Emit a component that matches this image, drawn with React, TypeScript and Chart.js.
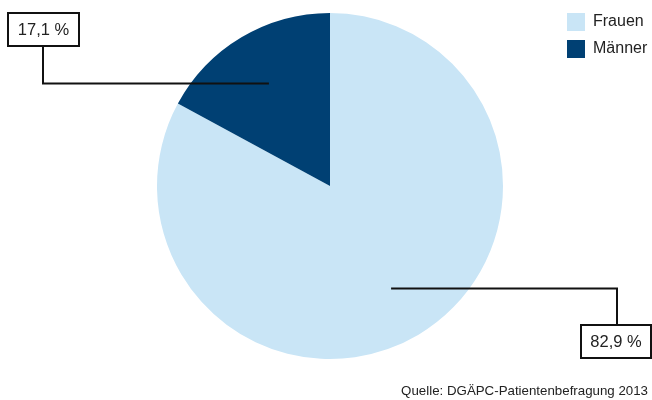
import React, { useEffect, useRef } from "react";
import { Chart, registerables } from "chart.js";

Chart.register(...registerables);

const categories = ["Frauen", "Männer"];
const values = [82.9, 17.1];
const valueLabels = ["82,9 %", "17,1 %"];
const colors = ["#C9E5F6", "#004073"];
const source = "Quelle: DGÄPC-Patientenbefragung 2013";

const FONT = "Arial, 'Liberation Sans', sans-serif";

const overlayPlugin = {
  id: "overlay",
  afterDraw(chart: any) {
    const ctx = chart.ctx;
    const meta = chart.getDatasetMeta(0);
    ctx.save();
    // legend
    ctx.font = `16px ${FONT}`;
    ctx.textBaseline = "middle";
    ctx.textAlign = "left";
    categories.forEach((c, i) => {
      const y = 13 + i * 27;
      ctx.fillStyle = colors[i];
      ctx.fillRect(567, y, 18, 18);
      ctx.fillStyle = "#222";
      ctx.fillText(c, 593, y + 9);
    });
    // callouts
    const drawBox = (label: string, x: number, y: number, w: number, h: number) => {
      ctx.fillStyle = "#fff";
      ctx.fillRect(x, y, w, h);
      ctx.strokeStyle = "#111";
      ctx.lineWidth = 2;
      ctx.strokeRect(x, y, w, h);
      ctx.fillStyle = "#222";
      ctx.font = `16.5px ${FONT}`;
      ctx.textAlign = "center";
      ctx.textBaseline = "middle";
      ctx.fillText(label, x + w / 2, y + h / 2 + 1);
    };
    const anchor = (i: number) => {
      const a = meta.data[i];
      const mid = (a.startAngle + a.endAngle) / 2;
      const r = a.outerRadius * 0.69;
      return { x: a.x + Math.cos(mid) * r, y: a.y + Math.sin(mid) * r };
    };
    ctx.strokeStyle = "#111";
    ctx.lineWidth = 2;
    // Männer
    const pm = anchor(1);
    ctx.beginPath();
    ctx.moveTo(pm.x, pm.y);
    ctx.lineTo(43, pm.y);
    ctx.lineTo(43, 46);
    ctx.stroke();
    drawBox(valueLabels[1], 8, 13, 71, 33);
    // Frauen
    const pf = anchor(0);
    ctx.strokeStyle = "#111";
    ctx.beginPath();
    ctx.moveTo(pf.x, pf.y);
    ctx.lineTo(617, pf.y);
    ctx.lineTo(617, 325);
    ctx.stroke();
    drawBox(valueLabels[0], 581, 325, 70, 33);
    // source
    ctx.font = `13.3px ${FONT}`;
    ctx.fillStyle = "#222";
    ctx.textAlign = "right";
    ctx.textBaseline = "middle";
    ctx.fillText(source, 648, 391);
    ctx.restore();
  },
};

export default function App() {
  const ref = useRef<HTMLCanvasElement>(null);
  useEffect(() => {
    if (!ref.current) return;
    const chart = new Chart(ref.current, {
      type: "pie",
      data: {
        labels: categories,
        datasets: [
          {
            data: values,
            backgroundColor: colors,
            borderWidth: 0,
          },
        ],
      },
      options: {
        responsive: false,
        animation: false,
        layout: { padding: { top: 13, bottom: 41, left: 157, right: 149 } },
        plugins: { legend: { display: false }, tooltip: { enabled: false } },
      },
      plugins: [overlayPlugin],
    });
    return () => chart.destroy();
  }, []);
  return (
    <div style={{ position: "fixed", left: 0, top: 0, width: 652, height: 400, background: "#fff" }}>
      <canvas ref={ref} width={652} height={400} style={{ width: 652, height: 400 }} />
    </div>
  );
}
